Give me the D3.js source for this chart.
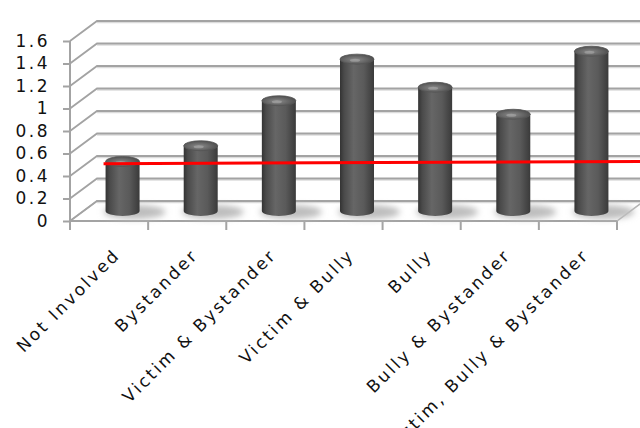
<!DOCTYPE html>
<html>
<head>
<meta charset="utf-8">
<script src="https://cdnjs.cloudflare.com/ajax/libs/d3/7.8.5/d3.min.js"></script>
<style>
  body { margin: 0; background: #fff; }
  text { font-family: "DejaVu Sans", sans-serif; fill: #111; }
</style>
</head>
<body>
<div id="chart"></div>
<script>
// data
var categories = ["Not Involved", "Bystander", "Victim & Bystander", "Victim & Bully",
                  "Bully", "Bully & Bystander", "Victim, Bully & Bystander"];
var values = [0.44, 0.58, 0.98, 1.35, 1.10, 0.86, 1.42];
var yTicks = [0, 0.2, 0.4, 0.6, 0.8, 1, 1.2, 1.4, 1.6];
var refLine = [0.42, 0.44];   // red reference line, left end / right end

var width = 640, height = 428;
var depthX = 27, depthY = -20;     // full depth offset of the back wall

var svg = d3.select("#chart").append("svg")
    .attr("width", width)
    .attr("height", height);

var x = d3.scaleBand()
    .domain(categories)
    .range([70, 617]);

var y = d3.scaleLinear()
    .domain([0, 1.6])
    .range([221, 41]);

var defs = svg.append("defs");

var bodyGrad = defs.append("linearGradient").attr("id", "cylBody");
[["0%", "#333"], ["12%", "#4a4a4a"], ["40%", "#666"], ["70%", "#5a5a5a"], ["100%", "#3a3a3a"]]
    .forEach(function(s) { bodyGrad.append("stop").attr("offset", s[0]).attr("stop-color", s[1]); });

var topGrad = defs.append("radialGradient").attr("id", "cylTop")
    .attr("cx", "45%").attr("cy", "55%").attr("r", "60%");
[["0%", "#8a8a8a"], ["50%", "#6a6a6a"], ["100%", "#4a4a4a"]]
    .forEach(function(s) { topGrad.append("stop").attr("offset", s[0]).attr("stop-color", s[1]); });

defs.append("filter").attr("id", "blur")
    .attr("x", "-50%").attr("y", "-50%").attr("width", "200%").attr("height", "200%")
    .append("feGaussianBlur").attr("stdDeviation", 3);

// floor
var floor = [[x.range()[0], y(0)], [x.range()[1], y(0)],
             [x.range()[1] + depthX, y(0) + depthY], [x.range()[0] + depthX, y(0) + depthY]];
svg.append("polygon")
    .attr("points", floor.map(function(p) { return p.join(","); }).join(" "))
    .attr("fill", "#fff")
    .attr("stroke", "#b4b4b4")
    .attr("stroke-width", 1.5);

// gridlines: side wall diagonals and back wall lines
var grid = svg.append("g");
yTicks.forEach(function(t) {
    var y0 = y(t);
    grid.append("line")
        .attr("x1", x.range()[0] + depthX).attr("x2", width + 5)
        .attr("y1", y0 + depthY + 1.5).attr("y2", y0 + depthY + 1.5)
        .attr("stroke", "#dcdcdc").attr("stroke-width", 1.5);
    grid.append("polyline")
        .attr("points", x.range()[0] + "," + y0 + " " + (x.range()[0] + depthX) + "," + (y0 + depthY) +
              " " + (width + 5) + "," + (y0 + depthY))
        .attr("fill", "none")
        .attr("stroke", "#a3a3a3")
        .attr("stroke-width", 1.8);
});

// y axis
var yAxis = svg.append("g")
    .attr("transform", "translate(" + x.range()[0] + ",0)")
    .call(d3.axisLeft(y).tickValues(yTicks).tickSize(7).tickPadding(13)
          .tickFormat(function(d) { return d3.format("")(+d.toFixed(1)); }));
yAxis.select(".domain").attr("stroke", "#a3a3a3").attr("stroke-width", 2)
    .attr("d", "M0," + y(1.6) + "V" + (y(0) + 9));
yAxis.selectAll(".tick line").attr("stroke", "#a3a3a3").attr("stroke-width", 2);
yAxis.selectAll(".tick text")
    .style("font-size", "17px")
    .style("letter-spacing", "2.5px")
    .attr("fill", "#111");

// x axis ticks on the band edges
var edges = categories.map(function(c) { return x(c); }).concat([x.range()[1]]);
svg.append("g").selectAll("line")
    .data(edges)
    .enter().append("line")
    .attr("x1", function(d) { return d; })
    .attr("x2", function(d) { return d; })
    .attr("y1", y(0))
    .attr("y2", y(0) + 9)
    .attr("stroke", "#a3a3a3")
    .attr("stroke-width", 2);
svg.append("line")
    .attr("x1", x.range()[0]).attr("x2", x.range()[1])
    .attr("y1", y(0)).attr("y2", y(0))
    .attr("stroke", "#a3a3a3").attr("stroke-width", 2);

// category labels
svg.append("g").selectAll("text")
    .data(categories)
    .enter().append("text")
    .attr("transform", function(d) {
        return "translate(" + (x(d) + x.bandwidth() / 2 + 12) + "," + (y(0) + 35) + ") rotate(-45)";
    })
    .attr("text-anchor", "end")
    .style("font-size", "17px")
    .style("letter-spacing", "2.5px")
    .text(function(d) { return d; });

// cylinders at mid depth
var rx = 17, ry = 5;
var cyl = svg.append("g").selectAll("g")
    .data(categories.map(function(c, i) { return {cat: c, value: values[i]}; }))
    .enter().append("g")
    .attr("transform", function(d) {
        return "translate(" + (x(d.cat) + x.bandwidth() / 2 + depthX / 2) + "," + (depthY / 2) + ")";
    });

cyl.append("ellipse")
    .attr("cx", 12).attr("cy", y(0) + 1)
    .attr("rx", rx + 14).attr("ry", ry + 2)
    .attr("fill", "#bdbdbd")
    .attr("filter", "url(#blur)");

cyl.append("path")
    .attr("d", function(d) {
        var t = y(d.value), b = y(0);
        return "M" + (-rx) + "," + t + "V" + b +
               "A" + rx + "," + ry + " 0 0 0 " + rx + "," + b +
               "V" + t + "Z";
    })
    .attr("fill", "url(#cylBody)");

cyl.append("ellipse")
    .attr("cx", 0).attr("cy", function(d) { return y(d.value); })
    .attr("rx", rx).attr("ry", ry)
    .attr("fill", "url(#cylTop)")
    .attr("stroke", "#555")
    .attr("stroke-width", 0.8);

cyl.append("ellipse")
    .attr("cx", -2).attr("cy", function(d) { return y(d.value) + 1; })
    .attr("rx", 5).attr("ry", 1.5)
    .attr("fill", "#aaa")
    .attr("opacity", 0.6);

// red reference line
var refX = d3.scaleLinear().domain([0, 1]).range([x(categories[0]) + x.bandwidth() / 2 + depthX / 2 - rx - 2, width]);
svg.append("path")
    .datum(refLine)
    .attr("d", d3.line()
        .x(function(d, i) { return refX(i); })
        .y(function(d) { return y(d) + depthY / 2; }))
    .attr("fill", "none")
    .attr("stroke", "#ff0000")
    .attr("stroke-width", 3);
</script>
</body>
</html>
